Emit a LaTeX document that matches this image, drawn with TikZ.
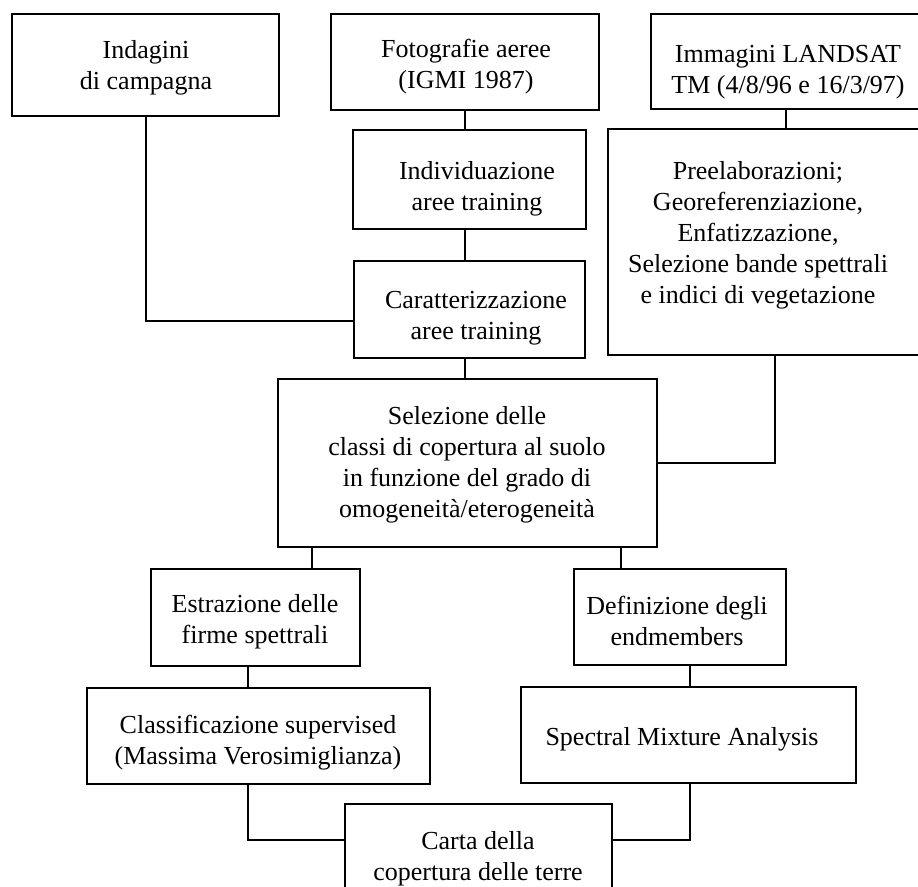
\documentclass[tikz,border=0pt]{standalone}
\usepackage{fontspec}
\setmainfont{Liberation Serif}
\usetikzlibrary{fit,calc}
\tikzset{
  box/.style={draw=black, line width=1.6pt, inner sep=0pt, rectangle},
  txt/.style={align=center, inner sep=0pt, font=\fontsize{26}{31}\selectfont},
  link/.style={draw=black, line width=1.6pt}
}
\begin{document}
\begin{tikzpicture}[x=1pt,y=-1pt]
\useasboundingbox (0,0) rectangle (918,886);
\clip (0,0) rectangle (918,886);
\fill[white] (0,0) rectangle (918,886);
% boxes
\node[box, fit={(12,14) (279,116)}] (ind) {};
\node[box, fit={(331,14) (599,110)}] (foto) {};
\node[box, fit={(651,14) (940,109)}] (imm) {};
\node[box, fit={(353,130) (586,229)}] (indiv) {};
\node[box, fit={(354,261) (585,358)}] (carat) {};
\node[box, fit={(608,129) (940,355)}] (pre) {};
\node[box, fit={(278,379) (657,547)}] (sel) {};
\node[box, fit={(151,569) (360,666)}] (estr) {};
\node[box, fit={(574,569) (786,665)}] (defn) {};
\node[box, fit={(87,688) (430,784)}] (class) {};
\node[box, fit={(521,687) (856,783)}] (sma) {};
\node[box, fit={(345,804) (612,950)}] (carta) {};
% texts
\node[txt] (ind-t) at (146,68) {Indagini\\di campagna};
\node[txt] (foto-t) at (466,67) {Fotografie aeree\\(IGMI 1987)};
\node[txt] (imm-t) at (788,72) {Immagini LANDSAT\\TM (4/8/96 e 16/3/97)};
\node[txt] (indiv-t) at (477,189) {Individuazione\\aree training};
\node[txt] (carat-t) at (476,318) {Caratterizzazione\\aree training};
\node[txt] (pre-t) at (758,235) {Preelaborazioni;\\Georeferenziazione,\\Enfatizzazione,\\Selezione bande spettrali\\e indici di vegetazione};
\node[txt] (sel-t) at (467,465) {Selezione delle\\classi di copertura al suolo\\in funzione del grado di\\omogeneità/eterogeneità};
\node[txt] (estr-t) at (255,622) {Estrazione delle\\firme spettrali};
\node[txt] (class-t) at (258,743) {Classificazione supervised\\(Massima Verosimiglianza)};
\node[txt] (defn-t) at (677,621) {Definizione degli\\endmembers};
\node[txt] (sma-t) at (682,739) {Spectral Mixture Analysis};
\node[txt] (carta-t) at (478,859) {Carta della\\copertura delle terre};
% junction helpers
\coordinate (j1) at (146,321);
\coordinate (j2) at (465,0);
\coordinate (j3) at (786,0);
\coordinate (j4) at (775,0);
\coordinate (j5) at (312,0);
\coordinate (j6) at (621,0);
\coordinate (j7) at (248,840);
\coordinate (j8) at (690,840);
% connectors
\draw[link] (ind.south -| j1) |- (carat.west |- j1);
\draw[link] (foto.south -| j2) -- (indiv.north -| j2);
\draw[link] (indiv.south -| j2) -- (carat.north -| j2);
\draw[link] (carat.south -| j2) -- (sel.north -| j2);
\draw[link] (imm.south -| j3) -- (pre.north -| j3);
\draw[link] (pre.south -| j4) |- (sel.east);
\draw[link] (sel.south -| j5) -- (estr.north -| j5);
\draw[link] (sel.south -| j6) -- (defn.north -| j6);
\draw[link] (estr.south -| j7) -- (class.north -| j7);
\draw[link] (defn.south -| j8) -- (sma.north -| j8);
\draw[link] (class.south -| j7) |- (carta.west |- j7);
\draw[link] (sma.south -| j8) |- (carta.east |- j8);
\end{tikzpicture}
\end{document}
